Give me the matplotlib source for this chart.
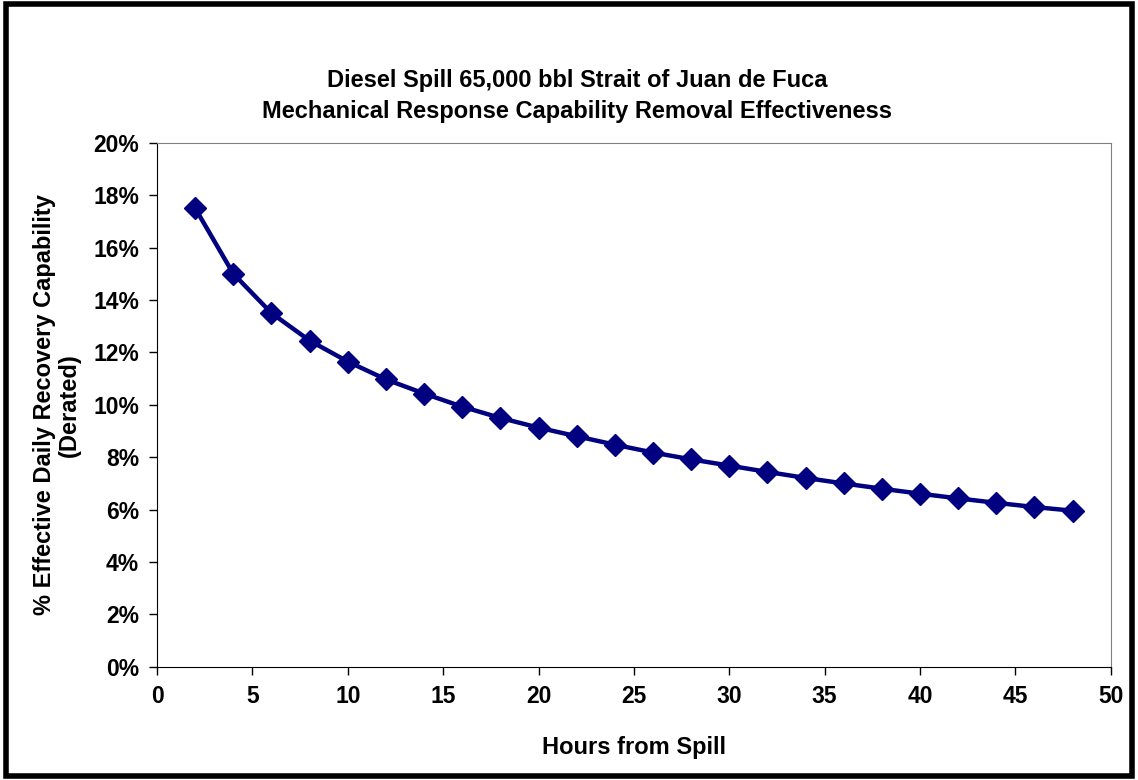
import matplotlib
matplotlib.use("Agg")
from matplotlib import pyplot as plt
from matplotlib.patches import Rectangle
from matplotlib.ticker import PercentFormatter

# hours from spill and derated daily recovery capability (%)
hours = [2, 4, 6, 8, 10, 12, 14, 16, 18, 20, 22, 24,
         26, 28, 30, 32, 34, 36, 38, 40, 42, 44, 46, 48]
effectiveness = [17.5, 15.0, 13.5, 12.45, 11.65, 10.97, 10.43, 9.93, 9.5, 9.13, 8.8, 8.48,
                 8.18, 7.92, 7.68, 7.44, 7.21, 7.0, 6.8, 6.61, 6.43, 6.26, 6.1, 5.96]

title_lines = ["Diesel Spill 65,000 bbl Strait of Juan de Fuca",
               "Mechanical Response Capability Removal Effectiveness"]

plt.rcParams['font.family'] = ['Liberation Sans', 'DejaVu Sans']
plt.rcParams['font.weight'] = 'bold'

fig = plt.figure(figsize=(11.38, 7.8), dpi=100)
ax = fig.add_axes([0.138, 0.145, 0.838, 0.672])

ax.plot(hours, effectiveness, color='#000080', lw=3.2, marker='D', ms=11,
        markeredgecolor='#000080')

ax.set_xlim(0, 50)
ax.set_ylim(0, 20)
ax.set_xticks(range(0, 51, 5))
ax.set_yticks(range(0, 21, 2))
ax.yaxis.set_major_formatter(PercentFormatter(decimals=0))
ax.tick_params(direction='out', length=6, width=1, labelsize=16.5, pad=7)

for s in ['top', 'right']:
    ax.spines[s].set_color('#808080')
for s in ['left', 'bottom']:
    ax.spines[s].set_color('black')

ax.set_xlabel('Hours from Spill', fontsize=17, fontweight='bold', labelpad=20)
ax.set_ylabel('% Effective Daily Recovery Capability\n(Derated)', fontsize=17,
              fontweight='bold', labelpad=9, linespacing=1.1)

fig.text(0.507, 0.877, '\n'.join(title_lines), ha='center', va='center',
         fontsize=17, fontweight='bold', linespacing=1.45)

fig.patches.append(Rectangle((0.005, 0.005), 0.99, 0.99, transform=fig.transFigure,
                             fill=False, edgecolor='black', lw=4))

fig.savefig('out.png', dpi=100)
